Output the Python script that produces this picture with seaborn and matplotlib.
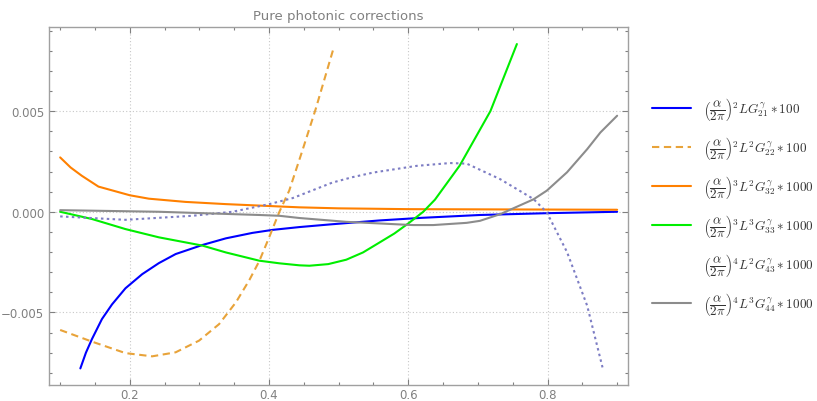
import numpy as np
import pandas as pd
import seaborn as sns
import matplotlib
matplotlib.use("Agg")
import matplotlib.pyplot as plt
from matplotlib.lines import Line2D
from matplotlib.ticker import MultipleLocator, FormatStrFormatter, FuncFormatter

# values
x_g21 = [0.129, 0.137, 0.1457, 0.160, 0.1745, 0.1938, 0.2178, 0.2418, 0.2659, 0.3043, 0.338, 0.376,
         0.405, 0.4437, 0.487, 0.559, 0.62, 0.703, 0.80, 0.90]
y_g21 = [-0.00778, -0.0070, -0.00632, -0.00533, -0.0046, -0.0038, -0.0031, -0.00255, -0.0021, -0.00165,
         -0.00132, -0.00105, -0.0009, -0.00076, -0.00063, -0.00043, -0.0003, -0.00016, -0.00007, 0.0]

x_g22 = [0.10, 0.1457, 0.1938, 0.2322, 0.2659, 0.2995, 0.3283, 0.3524, 0.3716, 0.386, 0.4004, 0.4149,
         0.429, 0.448, 0.467, 0.493]
y_g22 = [-0.00587, -0.00645, -0.00702, -0.00718, -0.00698, -0.0064, -0.00558, -0.0045, -0.00340, -0.00245,
         -0.00125, 0.0, 0.00105, 0.00305, 0.0051, 0.00816]

x_g32 = [0.10, 0.115, 0.131, 0.155, 0.20, 0.2274, 0.28, 0.338, 0.4437, 0.50, 0.60, 0.70, 0.80, 0.90]
y_g32 = [0.0027, 0.0022, 0.00179, 0.00125, 0.00082, 0.00065, 0.00049, 0.00038, 0.00022, 0.00017, 0.00013,
         0.00012, 0.00011, 0.0001]

x_g33 = [0.10, 0.1457, 0.1938, 0.2418, 0.3043, 0.338, 0.386, 0.4149, 0.4437, 0.458, 0.485, 0.511, 0.535,
         0.559, 0.580, 0.600, 0.6215, 0.6383, 0.674, 0.718, 0.756]
y_g33 = [0.0, -0.00036, -0.00086, -0.00127, -0.00168, -0.00202, -0.00243, -0.00256, -0.00266, -0.00268,
         -0.00260, -0.00238, -0.00202, -0.00152, -0.00108, -0.00058, 0.0, 0.0006, 0.0023, 0.0050, 0.00833]

x_g43 = [0.10, 0.1938, 0.2898, 0.3475, 0.4004, 0.434, 0.491, 0.52, 0.55, 0.612, 0.66, 0.684, 0.732, 0.78,
         0.799, 0.828, 0.857, 0.879]
y_g43 = [-0.00023, -0.0004, -0.0002, 0.0, 0.00038, 0.00068, 0.00145, 0.00172, 0.00195, 0.00228, 0.00242,
         0.00239, 0.00162, 0.00063, -0.00003, -0.002, -0.00467, -0.00773]

x_g44 = [0.10, 0.2418, 0.386, 0.415, 0.4437, 0.511, 0.588, 0.607, 0.636, 0.684, 0.703, 0.732, 0.78, 0.799,
         0.828, 0.857, 0.876, 0.90]
y_g44 = [0.00008, 0.0, -0.00016, -0.0002, -0.00031, -0.0005, -0.00063, -0.00066, -0.00066, -0.00055,
         -0.00045, -0.00012, 0.00062, 0.00105, 0.00196, 0.00311, 0.00394, 0.00477]

labels = [
    r'$\left(\dfrac{\alpha}{2\pi}\right)^2 LG_{21}^{\gamma} * 100$',
    r'$\left(\dfrac{\alpha}{2\pi}\right)^2 L^2G_{22}^{\gamma} * 100$',
    r'$\left(\dfrac{\alpha}{2\pi}\right)^3 L^2G_{32}^{\gamma} * 1000$',
    r'$\left(\dfrac{\alpha}{2\pi}\right)^3 L^3G_{33}^{\gamma} * 1000$',
    r'$\left(\dfrac{\alpha}{2\pi}\right)^4 L^2G_{43}^{\gamma} * 1000$',
    r'$\left(\dfrac{\alpha}{2\pi}\right)^4 L^3G_{44}^{\gamma} * 1000$',
]

sns.set_style("ticks")
plt.rcParams['font.family'] = ['DejaVu Sans']
plt.rcParams['mathtext.fontset'] = 'cm'

gray = '#808080'

fig = plt.figure(figsize=(8.17, 4.02), dpi=100)
ax = fig.add_axes([0.060, 0.040, 0.709, 0.890])

series = [
    (x_g21, y_g21, '#0000ff', '-'),
    (x_g22, y_g22, '#e8a33a', (0, (3.5, 2.2))),
    (x_g32, y_g32, '#ff8000', '-'),
    (x_g33, y_g33, '#00ee00', '-'),
    (x_g43, y_g43, '#7d7dc4', (0, (1.2, 1.6))),
    (x_g44, y_g44, '#8c8c8c', '-'),
]
for xs, ys, c, ls in series:
    sns.lineplot(x=xs, y=ys, ax=ax, color=c, linestyle=ls, linewidth=1.5, sort=False)

ax.set_xlim(0.084, 0.916)
ax.set_ylim(-0.0086, 0.00917)

ax.xaxis.set_major_locator(MultipleLocator(0.2))
ax.xaxis.set_minor_locator(MultipleLocator(0.05))
ax.yaxis.set_major_locator(MultipleLocator(0.005))
ax.yaxis.set_minor_locator(MultipleLocator(0.001))
ax.xaxis.set_major_formatter(FormatStrFormatter('%.1f'))
ax.yaxis.set_major_formatter(FuncFormatter(lambda v, p: ('%.3f' % v).replace('-', '\u2212')))

ax.tick_params(which='both', direction='in', top=True, right=True, colors=gray,
               labelcolor=gray, labelsize=8.5, width=0.8)
ax.tick_params(which='major', length=4)
ax.tick_params(which='minor', length=2)
ax.tick_params(axis='x', which='major', pad=2)
for s in ax.spines.values():
    s.set_color('#a0a0a0')
    s.set_linewidth(1.0)

ax.grid(True, which='major', linestyle=(0, (1, 2)), color='#c8c8c8', linewidth=0.8)
ax.set_axisbelow(True)

ax.set_title('Pure photonic corrections', color=gray, fontsize=9.5, pad=6)

handles = []
for xs, ys, c, ls in series:
    handles.append(Line2D([0], [0], color=c, linestyle=ls, linewidth=1.5))
handles[4].set_visible(False)
leg = ax.legend(handles, labels, loc='center left', bbox_to_anchor=(1.02, 0.5), frameon=False,
                fontsize=9.5, labelspacing=0.9, handlelength=3.0, handletextpad=0.9)
for t in leg.get_texts():
    t.set_color('#333333')

fig.savefig('out.png', dpi=100)
